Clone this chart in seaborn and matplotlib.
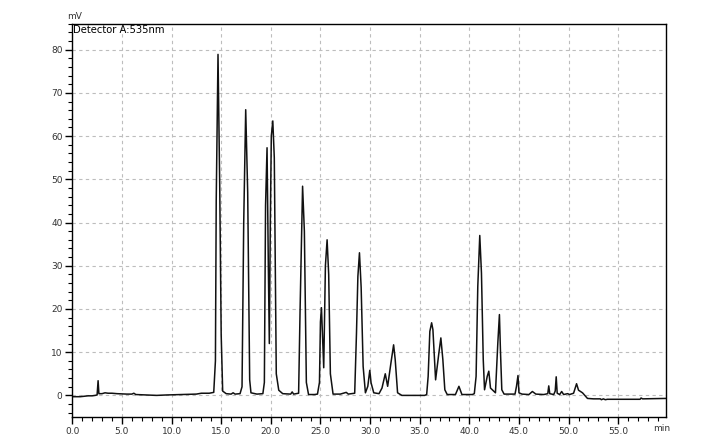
import pandas as pd
import matplotlib
matplotlib.use('Agg')
import matplotlib.pyplot as plt
import seaborn as sns
from matplotlib.ticker import MultipleLocator

# Trace vertices (time in min, signal in mV)
time_min = [
    0.0, 0.8, 1.2, 1.6, 2.0, 2.3, 2.5, 2.6, 2.68, 3.0, 3.3, 3.6, 4.0, 4.5, 5.5, 6.0, 6.2, 6.4,
    7.5, 8.5, 9.5, 11.0, 12.5, 13.0, 13.8, 14.25, 14.42, 14.5, 14.68, 14.85, 15.0, 15.15, 15.5,
    16.0, 16.2, 16.4, 16.9, 17.1, 17.27, 17.47, 17.67, 17.87, 18.0, 18.6, 19.2, 19.35, 19.47,
    19.62, 19.75, 19.85, 19.95, 20.05, 20.2, 20.35, 20.55, 20.8, 21.2, 22.0, 22.15, 22.3, 22.8,
    22.95, 23.2, 23.38, 23.58, 23.8, 24.4, 24.7, 24.9, 25.0, 25.1, 25.33, 25.5, 25.67, 25.83,
    26.0, 26.27, 27.0, 27.6, 27.8, 28.45, 28.63, 28.77, 28.93, 29.1, 29.3, 29.53, 29.77, 29.97,
    30.1, 30.37, 30.9, 31.2, 31.53, 31.77, 32.1, 32.37, 32.53, 32.77, 33.2, 35.5, 35.7, 35.85,
    36.02, 36.2, 36.33, 36.6, 36.93, 37.13, 37.33, 37.53, 37.77, 38.6, 38.95, 39.25, 40.3, 40.5,
    40.68, 40.85, 41.05, 41.22, 41.4, 41.53, 41.8, 41.96, 42.13, 42.63, 42.87, 43.03, 43.13,
    43.27, 43.5, 44.6, 44.75, 44.9, 45.0, 45.3, 46.0, 46.35, 46.7, 47.5, 47.9, 48.0, 48.1, 48.5,
    48.65, 48.75, 48.85, 49.1, 49.3, 49.5, 49.9, 50.1, 50.5, 50.8, 51.0, 51.4, 51.9, 52.5, 53.2,
    53.3, 53.5, 53.7, 53.9, 56.5, 57.2, 57.3, 57.45, 59.84,
]
signal_mv = [
    -0.3, -0.3, -0.2, -0.1, -0.1, 0.0, 0.1, 3.4, 0.4, 0.4, 0.6, 0.5, 0.5, 0.4, 0.3, 0.3, 0.5, 0.2,
    0.1, 0.0, 0.1, 0.2, 0.3, 0.5, 0.5, 0.7, 8.0, 45.0, 78.9, 49.0, 14.0, 1.0, 0.4,
    0.3, 0.6, 0.3, 0.4, 2.0, 40.0, 66.1, 47.0, 3.6, 0.6, 0.3, 0.4, 3.0, 44.0,
    57.3, 30.0, 12.0, 40.0, 60.0, 63.5, 55.0, 5.0, 1.2, 0.4, 0.3, 0.8, 0.3, 0.5,
    20.0, 48.4, 38.0, 3.0, 0.2, 0.2, 0.3, 3.0, 17.0, 20.3, 6.4, 30.0, 36.0, 28.0,
    5.0, 0.3, 0.3, 0.7, 0.3, 0.5, 14.4, 27.5, 33.0, 25.0, 6.7, 0.6, 2.1, 5.8,
    2.9, 0.6, 0.4, 1.7, 5.0, 2.1, 7.5, 11.7, 8.3, 0.6, 0.0, 0.0, 0.2, 4.4,
    14.8, 16.8, 15.2, 3.6, 9.8, 13.3, 8.3, 1.3, 0.2, 0.2, 2.1, 0.2, 0.2, 0.4,
    4.4, 25.2, 37.0, 28.3, 8.3, 1.3, 4.4, 5.6, 1.7, 0.6, 12.2, 18.7, 10.6,
    1.3, 0.3, 0.3, 2.1, 4.6, 0.6, 0.3, 0.2, 0.9, 0.3, 0.2, 0.4, 2.2, 0.4, 0.2,
    1.0, 4.3, 0.5, 0.2, 0.9, 0.2, 0.4, 0.2, 0.5, 2.7, 1.2, 0.6, -0.7, -0.8, -0.8,
    -1.0, -0.8, -1.0, -0.9, -0.9, -0.9, -0.6, -0.8, -0.7,
]
x_ticks = [0, 5, 10, 15, 20, 25, 30, 35, 40, 45, 50, 55]
x_labels = ['0.0', '5.0', '10.0', '15.0', '20.0', '25.0', '30.0', '35.0', '40.0', '45.0', '50.0', '55.0']
y_ticks = [0, 10, 20, 30, 40, 50, 60, 70, 80]

df = pd.DataFrame({'min': time_min, 'mV': signal_mv})

sns.set_style('white')
plt.rcParams['font.family'] = ['DejaVu Sans']

fig = plt.figure(figsize=(7.2, 4.44), dpi=100)
ax = fig.add_axes([0.1004, 0.0608, 0.825, 0.8858])

sns.lineplot(data=df, x='min', y='mV', ax=ax, color='#111111', linewidth=1.1,
             estimator=None, sort=False)

ax.set_xlim(0, 59.84)
ax.set_ylim(-5, 86)
ax.set_xticks(x_ticks)
ax.set_xticklabels(x_labels)
ax.set_yticks(y_ticks)
ax.xaxis.set_minor_locator(MultipleLocator(1))
ax.yaxis.set_minor_locator(MultipleLocator(2))
ax.tick_params(which='major', direction='out', length=5, width=1, color='black',
               labelsize=6.5, labelcolor='#333333', pad=2, left=True, bottom=True)
ax.tick_params(which='minor', direction='out', length=3, width=0.8, color='black',
               left=True, bottom=True)
ax.set_xlabel('')
ax.set_ylabel('')

# Dashed reference grid
ax.grid(which='major', axis='both', linestyle=(0, (3, 3)), color='#bdbdbd', linewidth=0.8)
ax.set_axisbelow(True)
for s in ax.spines.values():
    s.set_color('black')
    s.set_linewidth(1.0)

ax.text(0.002, 0.997, 'Detector A:535nm', transform=ax.transAxes, ha='left', va='top',
        fontsize=7.2, color='black')
fig.text(0.093, 0.962, 'mV', ha='left', va='center', fontsize=6.5, color='#333333')
fig.text(0.907, 0.034, 'min', ha='left', va='center', fontsize=6.5, color='#333333')

fig.savefig('out.png', dpi=100)
